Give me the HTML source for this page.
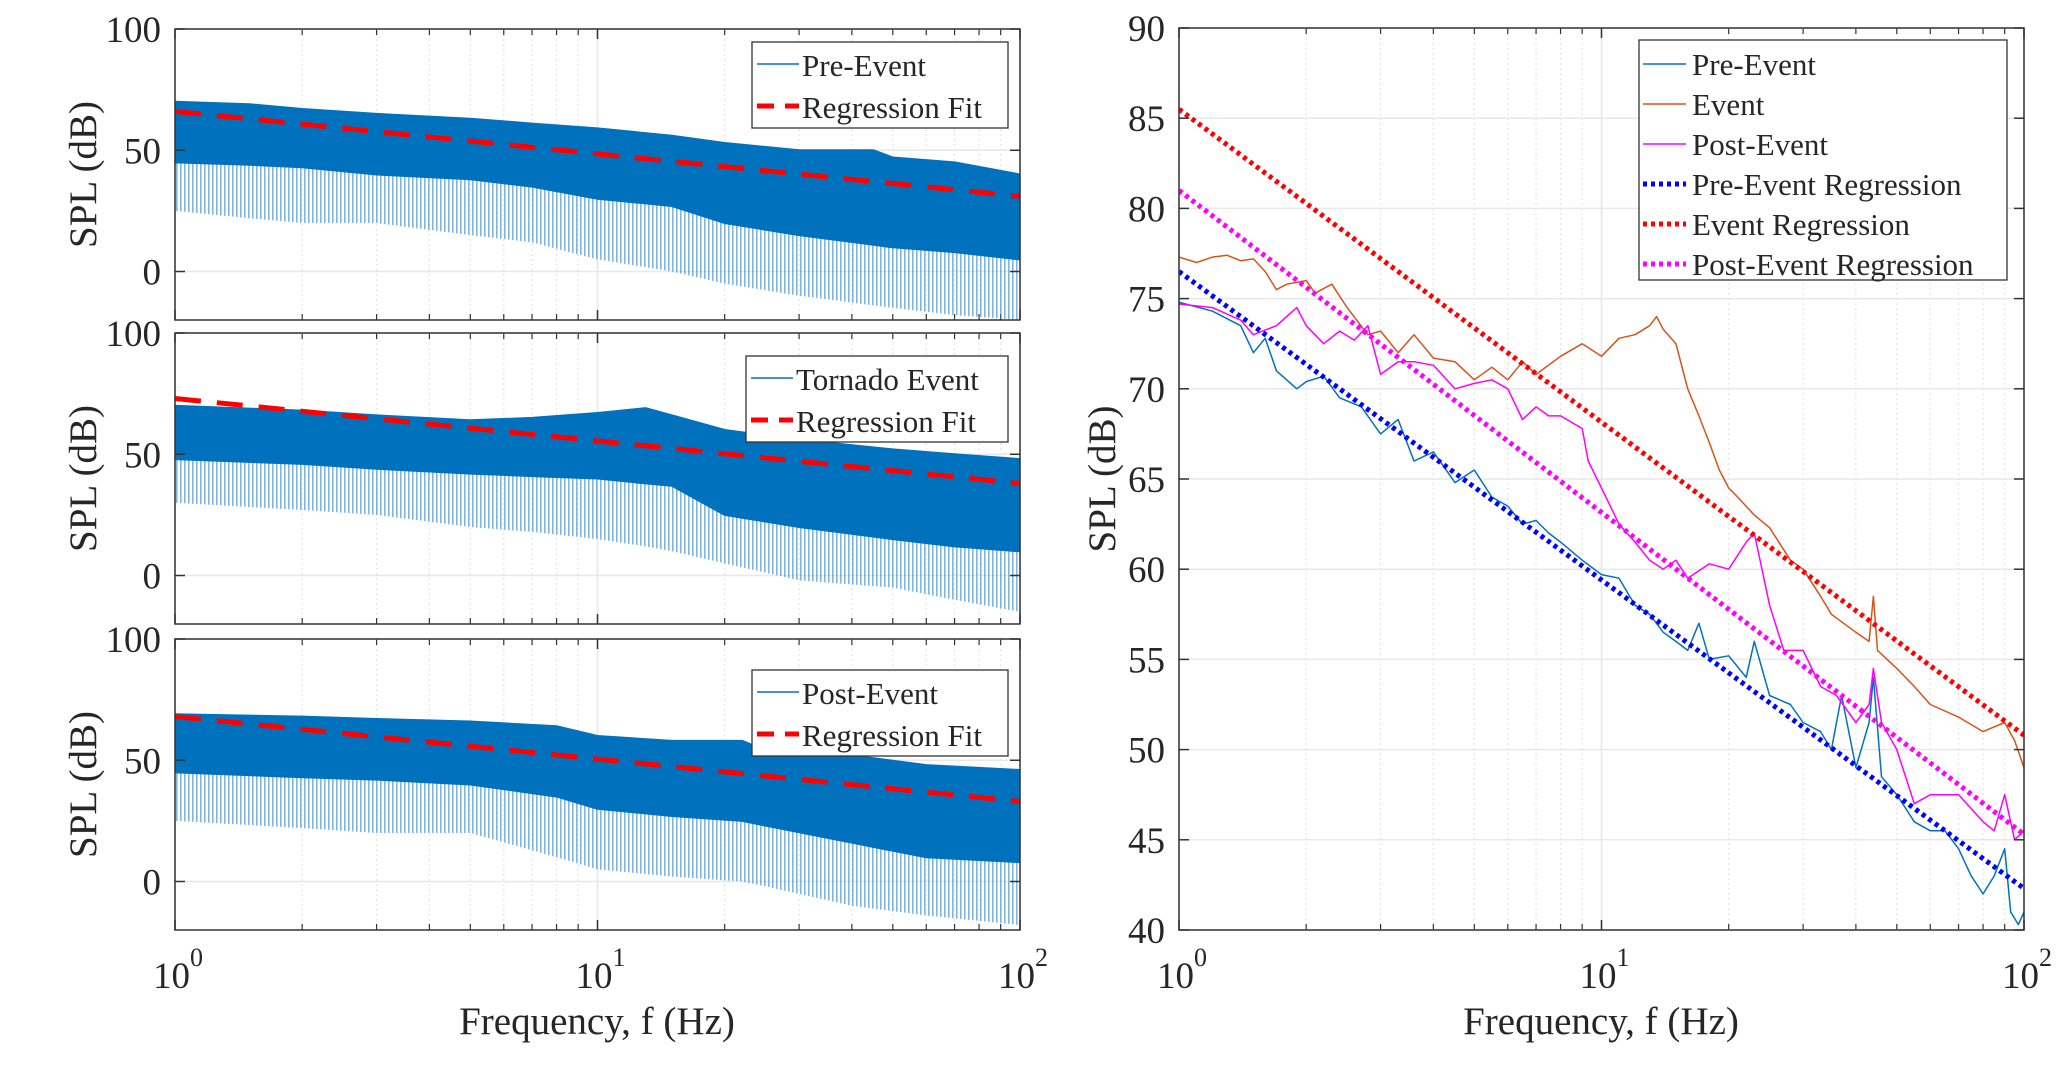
<!DOCTYPE html>
<html><head><meta charset="utf-8"><style>
html,body{margin:0;padding:0;background:#fff;}
svg{display:block;}
svg text{font-family:"Liberation Serif","Times New Roman","DejaVu Serif",serif;}
</style></head><body>
<svg id="fig" width="2067" height="1067" viewBox="0 0 2067 1067" xmlns="http://www.w3.org/2000/svg" font-family="Liberation Serif, Times New Roman, DejaVu Serif, serif">
<defs>
<pattern id="hatch" width="4" height="10" patternUnits="userSpaceOnUse"><rect x="0" y="0" width="1.6" height="10" fill="#2a84c9"/></pattern>
</defs>
</svg>
<script>
// ---------- data: left panels (envelopes) ----------
const bandFreq1 = [1,1.5,2,3,5,7,10,15,20,30,45,50,70,100];
const p1Upper = [70,69,67,65,63,61,59,56,53,50,50,47,45,40];
const p1Solid = [45,44,43,40,38,35,30,27,20,15,11,10,8,5];
const p1Spike = [25,22,20,20,15,12,5,0,-5,-10,-14,-15,-18,-20];
const bandFreq2 = [1,2,3,5,7,10,13,15,20,30,50,70,100];
const p2Upper = [70,68,66,64,65,67,69,66,60,56,52,50,48];
const p2Solid = [48,46,44,42,41,40,38,37,25,20,15,12,10];
const p2Spike = [30,27,25,20,18,15,12,10,5,-2,-5,-10,-15];
const bandFreq3 = [1,2,3,5,8,10,15,22,25,40,60,100];
const p3Upper = [69,68,67,66,64,60,58,58,54,52,48,46];
const p3Solid = [45,43,42,40,35,30,27,25,23,16,10,8];
const p3Spike = [25,22,20,20,10,5,2,0,-2,-10,-14,-18];
const regStart = [66,73,68];
const regEnd = [31,38,33];
const leftLabels = ["Pre-Event","Tornado Event","Post-Event"];
const leftYTicks = [0,50,100];
const xTickExp = [0,1,2];
// ---------- data: right panel ----------
const preF = [1,1.2,1.4,1.5,1.6,1.7,1.9,2,2.2,2.4,2.7,3,3.3,3.6,4,4.5,5,5.5,6,6.5,7,7.5,8,9,10,11,12,13,14,15,16,17,18,20,22,23,25,28,30,33,35,37,40,43,44,46,50,55,60,65,70,75,80,85,90,93,97,100];
const preV = [74.8,74.3,73.5,72,72.8,71,70,70.4,70.7,69.5,69,67.5,68.3,66,66.5,64.8,65.5,64,63.5,62.5,62.7,62,61.5,60.5,59.7,59.5,58,57.5,56.5,56,55.5,57,55,55.2,54,56,53,52.5,51.5,51,50,53,49,51.5,54,48.5,47.5,46,45.5,45.5,44.5,43,42,43,44.5,41,40.3,41];
const evF = [1,1.1,1.2,1.3,1.4,1.5,1.6,1.7,1.8,2,2.1,2.3,2.5,2.8,3,3.3,3.6,4,4.5,5,5.5,6,6.5,7,8,9,10,11,12,13,13.5,14,15,16,17,18,19,20,21,23,25,28,30,33,35,40,43,44,45,50,55,60,70,80,90,95,100];
const evV = [77.3,77,77.3,77.4,77.1,77.2,76.5,75.5,75.8,76,75.3,75.8,74.5,73,73.2,72,73,71.7,71.5,70.5,71.2,70.5,71.5,70.8,71.8,72.5,71.8,72.8,73,73.5,74,73.3,72.5,70,68.5,67,65.5,64.5,64,63,62.3,60.5,60,58.5,57.5,56.5,56,58.5,55.5,54.5,53.5,52.5,51.8,51,51.5,50.5,49];
const postF = [1,1.2,1.4,1.5,1.7,1.9,2,2.2,2.4,2.6,2.8,3,3.3,3.6,4,4.5,5,5.5,6,6.5,7,7.5,8,9,9.3,10,11,12,13,14,15,16,18,20,22,23,25,27,30,33,36,40,43,44,46,50,55,60,70,80,85,90,95,100];
const postV = [74.7,74.5,73.8,73,73.5,74.5,73.5,72.5,73.2,72.7,73.5,70.8,71.5,71.5,71.3,70,70.3,70.5,70,68.3,69,68.5,68.5,67.8,66,64.5,62.5,61.5,60.5,60,60.5,59.5,60.3,60,61.5,62,58,55.5,55.5,53.5,53,51.5,52.5,54.5,51.5,50,47,47.5,47.5,46,45.5,47.5,45,45.5];
const regPre = [76.5,42.3];
const regEv = [85.5,50.8];
const regPost = [81,45.3];
const rightYTicks = [40,45,50,55,60,65,70,75,80,85,90];
const rightLegend = ["Pre-Event","Event","Post-Event","Pre-Event Regression","Event Regression","Post-Event Regression"];

const NS="http://www.w3.org/2000/svg";
const svg=document.getElementById('fig');
const FONT='"Liberation Serif","Times New Roman","DejaVu Serif",serif';
function mk(tag,attrs,parent){const e=document.createElementNS(NS,tag);for(const k in attrs)e.setAttribute(k,attrs[k]);(parent||svg).appendChild(e);return e;}
function txt(x,y,s,size,anchor,parent){const t=mk('text',{x:x,y:y,'font-size':size,'text-anchor':anchor||'start',fill:'#262626'},parent);t.style.fontFamily=FONT;t.textContent=s;return t;}

function axes(x0,x1,y0,y1,ymin,ymax){
  return {fx:f=>x0+(Math.log10(f))/2*(x1-x0), fy:v=>y1-(v-ymin)/(ymax-ymin)*(y1-y0), x0,x1,y0,y1};
}
function gridAndFrame(A,yticks,showX,name){
  const g=mk('g',{});
  
  
  for(let d=0;d<2;d++)for(let m=2;m<=9;m++){const x=A.fx(m*Math.pow(10,d));
    mk('line',{x1:x,x2:x,y1:A.y0,y2:A.y1,stroke:'#e4e4e4','stroke-width':1.2,'stroke-dasharray':'2,3'},g);
    mk('line',{x1:x,x2:x,y1:A.y1,y2:A.y1-6,stroke:'#333','stroke-width':1.2},g);
    mk('line',{x1:x,x2:x,y1:A.y0,y2:A.y0+6,stroke:'#333','stroke-width':1.2},g);}
  for(const e of xTickExp){const x=A.fx(Math.pow(10,e));
    mk('line',{x1:x,x2:x,y1:A.y0,y2:A.y1,stroke:'#e6e6e6','stroke-width':1.5},g);}
  for(const v of yticks){const y=A.fy(v);
    mk('line',{x1:A.x0,x2:A.x1,y1:y,y2:y,stroke:'#e8e8e8','stroke-width':1.5},g);}
  return g;
}
function frame(A,yticks,showX,name,tickSize){
  const g=mk('g',{});
  
  
  mk('rect',{x:A.x0,y:A.y0,width:A.x1-A.x0,height:A.y1-A.y0,fill:'none',stroke:'#333','stroke-width':1.5},g);
  for(const v of yticks){const y=A.fy(v);
    mk('line',{x1:A.x0,x2:A.x0+10,y1:y,y2:y,stroke:'#333','stroke-width':1.5},g);
    mk('line',{x1:A.x1,x2:A.x1-10,y1:y,y2:y,stroke:'#333','stroke-width':1.5},g);
    const t=txt(A.x0-14,y+13,String(v),tickSize,'end',g);
    
    }
  for(const e of xTickExp){const x=A.fx(Math.pow(10,e));
    mk('line',{x1:x,x2:x,y1:A.y1,y2:A.y1-10,stroke:'#333','stroke-width':1.5},g);
    mk('line',{x1:x,x2:x,y1:A.y0,y2:A.y0+10,stroke:'#333','stroke-width':1.5},g);
    if(showX){const t=mk('text',{x:x-22,y:988,'font-size':37,fill:'#262626'},g);
      t.style.fontFamily=FONT;
      
      
      t.textContent='10';
      const s=mk('tspan',{dy:-22,'font-size':26},t);s.textContent=String(e);}}
}
function pathFrom(A,fs,vs){return fs.map((f,i)=>(i?'L':'M')+A.fx(f).toFixed(1)+','+A.fy(vs[i]).toFixed(1)).join('');}
function bandPath(A,fs,up,lo){
  let d=pathFrom(A,fs,up);
  for(let i=fs.length-1;i>=0;i--)d+='L'+A.fx(fs[i]).toFixed(1)+','+A.fy(lo[i]).toFixed(1);
  return d+'Z';
}

// ---------- left panels ----------
const panelsY=[[29,320],[333,624],[639,930]];
const bands=[[bandFreq1,p1Upper,p1Solid,p1Spike],[bandFreq2,p2Upper,p2Solid,p2Spike],[bandFreq3,p3Upper,p3Solid,p3Spike]];
const legY=[[42,128],[356,442],[670,756]];
for(let p=0;p<3;p++){
  const A=axes(175,1020,panelsY[p][0],panelsY[p][1],-20,100);
  const nm='panel-'+(p+1);
  gridAndFrame(A,leftYTicks,p===2,nm);
  const clip=mk('clipPath',{id:'c'+p});mk('rect',{x:A.x0,y:A.y0,width:A.x1-A.x0,height:A.y1-A.y0},clip);
  const [fs,up,so,sp]=bands[p];
  const g=mk('g',{'clip-path':'url(#c'+p+')'});
  
  
  const s1=mk('path',{d:bandPath(A,fs,so,sp),fill:'url(#hatch)',opacity:0.6},g);
  
  
  const s2=mk('path',{d:bandPath(A,fs,up,so),fill:'#0072BD',stroke:'#0072BD','stroke-width':2},g);
  
  
  const r=mk('path',{d:pathFrom(A,[1,100],[regStart[p],regEnd[p]]),stroke:'#ff0000','stroke-width':5,'stroke-dasharray':'26,16',fill:'none'},g);
  
  
  frame(A,leftYTicks,p===2,nm,37);
  const yl=mk('text',{x:0,y:0,'font-size':39,'text-anchor':'middle',fill:'#262626',transform:'translate(96,'+((A.y0+A.y1)/2)+') rotate(-90)'});
  yl.style.fontFamily=FONT;
  
  
  yl.textContent='SPL (dB)';
  const lg=mk('g',{});
  
  
  const lx0=p===1?746:752, ly0=legY[p][0], ly1=legY[p][1];
  mk('rect',{x:lx0,y:ly0,width:1008-lx0,height:ly1-ly0,fill:'#fff',stroke:'#333','stroke-width':1.3},lg);
  const tx=lx0+50;
  mk('line',{x1:lx0+5,x2:tx-3,y1:ly0+22,y2:ly0+22,stroke:'#0072BD','stroke-width':1.5},lg);
  txt(tx,ly0+34,leftLabels[p],31,'start',lg);
  mk('line',{x1:lx0+5,x2:tx-3,y1:ly0+64,y2:ly0+64,stroke:'#ff0000','stroke-width':5,'stroke-dasharray':'17,11'},lg);
  txt(tx,ly0+76,'Regression Fit',31,'start',lg);
}
const xl1=txt(597,1034,'Frequency, f (Hz)',39,'middle');



// ---------- right panel ----------
const R=axes(1179,2024,28,930,40,90);
gridAndFrame(R,rightYTicks,true,'right-panel');
const cr=mk('clipPath',{id:'cr'});mk('rect',{x:R.x0,y:R.y0,width:R.x1-R.x0,height:R.y1-R.y0},cr);
const gr=mk('g',{'clip-path':'url(#cr)'});


const series=[[preF,preV,'#0072BD','pre-event-line'],[evF,evV,'#D95319','event-line'],[postF,postV,'#FF00FF','post-event-line']];
for(const [f,v,c,n] of series){const e=mk('path',{d:pathFrom(R,f,v),stroke:c,'stroke-width':1.5,fill:'none','stroke-linejoin':'round'},gr);
  
  }
const regs=[[regPre,'#0000ff','pre-event-regression'],[regEv,'#ff0000','event-regression'],[regPost,'#ff00ff','post-event-regression']];
for(const [v,c,n] of regs){const e=mk('path',{d:pathFrom(R,[1,100],v),stroke:c,'stroke-width':5,'stroke-dasharray':'4,4',fill:'none'},gr);
  
  }
frame(R,rightYTicks,true,'right-panel',37);
const yr=mk('text',{x:0,y:0,'font-size':39,'text-anchor':'middle',fill:'#262626',transform:'translate(1115,479) rotate(-90)'});
yr.style.fontFamily=FONT;


yr.textContent='SPL (dB)';
const xr=txt(1601,1034,'Frequency, f (Hz)',39,'middle');


const rl=mk('g',{});


mk('rect',{x:1639,y:40,width:368,height:240,fill:'#fff',stroke:'#333','stroke-width':1.3},rl);
const legStyle=[['#0072BD',1.5,''],['#D95319',1.5,''],['#FF00FF',1.5,''],['#0000ff',5,'4,4'],['#ff0000',5,'4,4'],['#ff00ff',5,'4,4']];
rightLegend.forEach((s,i)=>{const y=75+40*i;
  const a={x1:1643,x2:1686,y1:y-11,y2:y-11,stroke:legStyle[i][0],'stroke-width':legStyle[i][1]};
  if(legStyle[i][2])a['stroke-dasharray']=legStyle[i][2];
  mk('line',a,rl);
  const t=txt(1692,y,s,31,'start',rl);
  
  
});
</script>
</body></html>
